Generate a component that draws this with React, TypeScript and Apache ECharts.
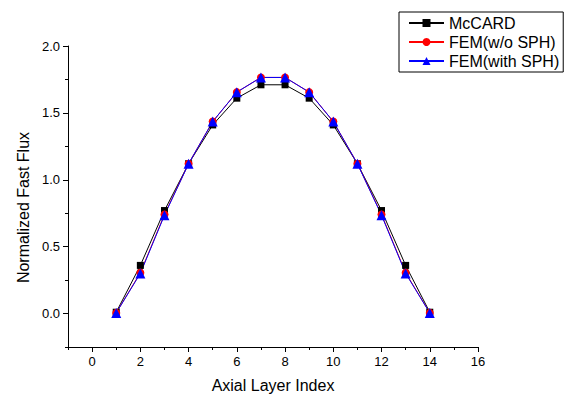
import React, { useEffect, useRef } from "react";
import * as echarts from "echarts";

const layers = [1, 2, 3, 4, 5, 6, 7, 8, 9, 10, 11, 12, 13, 14];
const mccard = [0.01, 0.36, 0.77, 1.12, 1.41, 1.61, 1.71, 1.71, 1.61, 1.41, 1.12, 0.77, 0.36, 0.01];
const femNoSph = [0.005, 0.305, 0.74, 1.12, 1.435, 1.655, 1.765, 1.765, 1.655, 1.435, 1.12, 0.74, 0.305, 0.005];
const femSph = [0.005, 0.30, 0.735, 1.12, 1.435, 1.655, 1.765, 1.765, 1.655, 1.435, 1.12, 0.735, 0.30, 0.005];
const xMajor = [0, 2, 4, 6, 8, 10, 12, 14, 16];
const xMinor = [-1, 1, 3, 5, 7, 9, 11, 13, 15];
const yMajor = [0, 0.5, 1.0, 1.5, 2.0];
const yMinor = [-0.25, 0.25, 0.75, 1.25, 1.75];

const FONT = "'Liberation Sans', Arial, sans-serif";

export default function App() {
  const ref = useRef<HTMLDivElement>(null);
  useEffect(() => {
    if (!ref.current) return;
    const chart = echarts.init(ref.current, null, { renderer: "svg" });
    const pts = (ys: number[]) => layers.map((x, i) => [x, ys[i]]);
    const axisLine = { show: true, onZero: false, lineStyle: { color: "#000", width: 1 } };
    chart.setOption({
      animation: false,
      backgroundColor: "#fff",
      textStyle: { fontFamily: FONT },
      grid: { left: 68, top: 46, right: 93, bottom: 53, containLabel: false },
      legend: {
        orient: "vertical",
        left: 399,
        top: 12,
        padding: [3, 4, 3, 9],
        itemGap: 3,
        itemWidth: 35,
        itemHeight: 10,
        borderColor: "#000",
        borderWidth: 1,
        textStyle: { fontFamily: FONT, fontSize: 16, lineHeight: 16, color: "#000" },
        data: ["McCARD", "FEM(w/o SPH)", "FEM(with SPH)"],
      },
      xAxis: [
        {
          type: "value",
          min: -1,
          max: 16,
          position: "bottom",
          axisLine,
          splitLine: { show: false },
          axisTick: { show: true, inside: false, length: 5, customValues: xMajor, lineStyle: { color: "#000" } },
          axisLabel: { customValues: xMajor, color: "#000", fontSize: 13, fontFamily: FONT, margin: 8 },
          name: "Axial Layer Index",
          nameLocation: "middle",
          nameGap: 30,
          nameTextStyle: { fontSize: 16, color: "#000", fontFamily: FONT },
        },
        {
          type: "value",
          min: -1,
          max: 16,
          position: "bottom",
          axisLine: { show: false, onZero: false },
          splitLine: { show: false },
          axisTick: { show: true, inside: false, length: 3, customValues: xMinor, lineStyle: { color: "#000" } },
          axisLabel: { show: false },
        },
      ],
      yAxis: [
        {
          type: "value",
          min: -0.25,
          max: 2.0,
          position: "left",
          axisLine,
          splitLine: { show: false },
          axisTick: { show: true, inside: false, length: 5, customValues: yMajor, lineStyle: { color: "#000" } },
          axisLabel: {
            customValues: yMajor,
            color: "#000",
            fontSize: 13,
            fontFamily: FONT,
            margin: 8,
            formatter: (v: number) => v.toFixed(1),
          },
          name: "Normalized Fast Flux",
          nameLocation: "middle",
          nameGap: 36,
          nameTextStyle: { fontSize: 16, color: "#000", fontFamily: FONT, padding: [0, 22, 0, 0] },
        },
        {
          type: "value",
          min: -0.25,
          max: 2.0,
          position: "left",
          axisLine: { show: false, onZero: false },
          splitLine: { show: false },
          axisTick: { show: true, inside: false, length: 3, customValues: yMinor, lineStyle: { color: "#000" } },
          axisLabel: { show: false },
        },
      ],
      series: [
        {
          name: "minor-ticks",
          type: "line",
          xAxisIndex: 1,
          yAxisIndex: 1,
          data: pts(mccard),
          symbol: "none",
          silent: true,
          lineStyle: { opacity: 0 },
          tooltip: { show: false },
        },
        {
          name: "McCARD",
          type: "line",
          data: pts(mccard),
          symbol: "rect",
          symbolSize: 7,
          color: "#000",
          lineStyle: { color: "#000", width: 1 },
          itemStyle: { color: "#000" },
        },
        {
          name: "FEM(w/o SPH)",
          type: "line",
          data: pts(femNoSph),
          symbol: "circle",
          symbolSize: 8,
          color: "#ff0000",
          lineStyle: { color: "#ff0000", width: 1 },
          itemStyle: { color: "#ff0000" },
        },
        {
          name: "FEM(with SPH)",
          type: "line",
          data: pts(femSph),
          symbol: "triangle",
          symbolSize: 10,
          color: "#0000ff",
          lineStyle: { color: "#0000ff", width: 1 },
          itemStyle: { color: "#0000ff" },
        },
      ],
    });
    return () => chart.dispose();
  }, []);
  return <div ref={ref} style={{ width: 571, height: 400, position: "absolute", left: 0, top: 0 }} />;
}
